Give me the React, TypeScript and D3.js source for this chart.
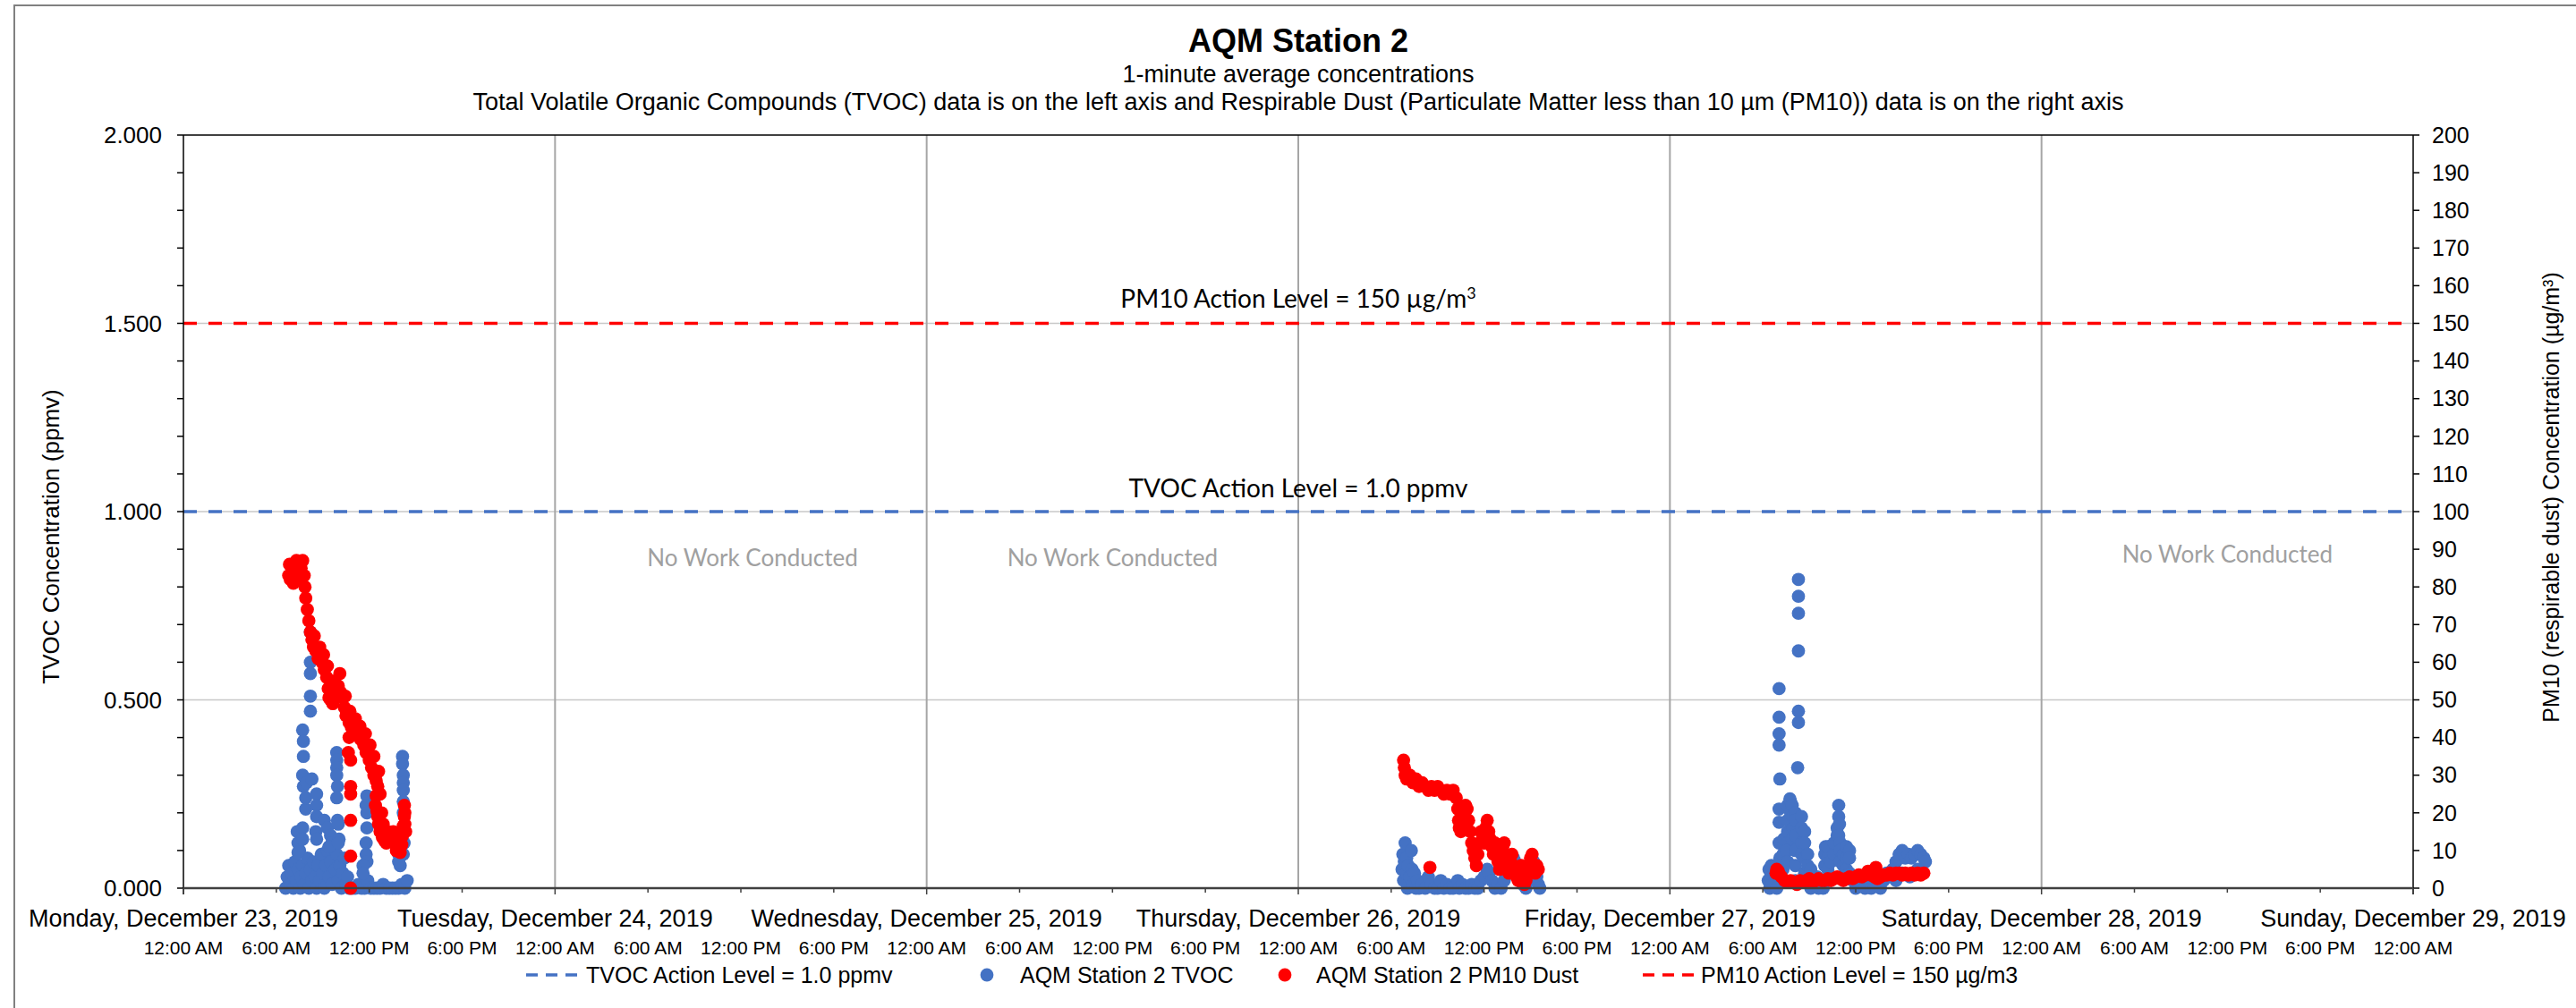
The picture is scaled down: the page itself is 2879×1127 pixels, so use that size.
import React from "react";
import * as d3 from "d3";

// ---------- DATA ----------
const titleText = "AQM Station 2";
const subtitleText = "1-minute average concentrations";
const noteText =
  "Total Volatile Organic Compounds (TVOC) data is on the left axis and Respirable Dust (Particulate Matter less than 10 µm (PM10)) data is on the right axis";
const leftAxisTitle = "TVOC Concentration (ppmv)";
const rightAxisTitle = "PM10 (respirable dust) Concentration (µg/m³)";
const legendLabels = [
  "TVOC Action Level = 1.0 ppmv",
  "AQM Station 2 TVOC",
  "AQM Station 2 PM10 Dust",
  "PM10 Action Level = 150 µg/m3",
];
const tvocActionLevel = 1.0; // ppmv, left axis
const pm10ActionLevel = 150; // µg/m3, right axis
const noWorkDays = [1, 2, 5]; // day index from Dec 23 (Tue, Wed, Sat)
const noWorkText = "No Work Conducted";

const startDate = new Date(2019, 11, 23);
const endDate = new Date(2019, 11, 29);

// [hour of day, TVOC ppmv]  — Monday Dec 23
const tvocDec23: [number, number][] = [
  [6.6, 0.0], [6.7, 0.03], [6.8, 0.06], [6.9, 0.01], [7.0, 0.04], [7.1, 0.0], [7.2, 0.07], [7.3, 0.02],
  [7.4, 0.05], [7.5, 0.1], [7.55, 0.0], [7.6, 0.03], [7.7, 0.06], [7.8, 0.01], [7.9, 0.04], [8.0, 0.08],
  [8.1, 0.0], [8.2, 0.05], [8.3, 0.02], [8.4, 0.07], [8.5, 0.03], [8.6, 0.0], [8.7, 0.06], [8.8, 0.02],
  [8.9, 0.09], [9.0, 0.04], [9.1, 0.0], [9.2, 0.06], [9.3, 0.1], [9.4, 0.03], [9.5, 0.07], [9.6, 0.01],
  [9.7, 0.12], [9.8, 0.05], [9.9, 0.09], [10.0, 0.02], [10.1, 0.06], [10.2, 0.0], [10.3, 0.04], [10.4, 0.08],
  [10.5, 0.01], [10.6, 0.03], [10.7, 0.0], [10.9, 0.0], [11.1, 0.0], [11.3, 0.01], [11.5, 0.0], [11.7, 0.0],
  [11.9, 0.02], [12.1, 0.0], [12.3, 0.0], [12.5, 0.0], [12.7, 0.0], [12.9, 0.01], [13.1, 0.0], [13.3, 0.0],
  [13.5, 0.0], [13.7, 0.0], [13.9, 0.0], [14.1, 0.01], [14.3, 0.0], [14.45, 0.02],
  [7.4, 0.12], [7.4, 0.095], [7.35, 0.15],
  [7.7, 0.42], [7.75, 0.39], [7.75, 0.35], [7.7, 0.3], [7.75, 0.27], [7.7, 0.16], [7.7, 0.13],
  [7.9, 0.21], [7.95, 0.28], [7.9, 0.24],
  [8.2, 0.68], [8.2, 0.6], [8.2, 0.57], [8.2, 0.51], [8.2, 0.47],
  [8.3, 0.29], [8.6, 0.25], [8.6, 0.22], [8.6, 0.19], [8.55, 0.15], [8.6, 0.13],
  [9.1, 0.18], [9.3, 0.16], [9.5, 0.14], [9.6, 0.12], [9.4, 0.11],
  [9.9, 0.36], [9.9, 0.34], [9.9, 0.32], [9.9, 0.3], [9.95, 0.27], [9.9, 0.24], [9.95, 0.18],
  [10.0, 0.17], [10.05, 0.13], [10.0, 0.12],
  [11.85, 0.245], [11.8, 0.22], [11.85, 0.2], [11.85, 0.16], [11.8, 0.12], [11.8, 0.09], [11.85, 0.07],
  [11.6, 0.06], [11.6, 0.04],
  [14.15, 0.35], [14.15, 0.33], [14.2, 0.3], [14.2, 0.28], [14.2, 0.26], [14.2, 0.23], [14.2, 0.2],
  [14.25, 0.12], [14.2, 0.09], [14.0, 0.06], [13.9, 0.09], [13.9, 0.07],
];

// [hour of day, PM10 µg/m3] — Monday Dec 23
const pm10Dec23: [number, number][] = [
  [6.8, 83], [6.85, 86], [6.9, 82], [7.0, 85], [7.1, 81], [7.2, 84], [7.3, 87], [7.4, 84], [7.5, 82],
  [7.6, 85], [7.7, 87], [7.8, 83], [7.85, 80], [7.9, 77], [8.0, 74], [8.1, 71], [8.2, 68], [8.3, 66],
  [8.4, 64], [8.55, 63], [8.7, 61], [8.95, 60], [9.1, 58], [9.25, 56], [9.35, 53], [9.4, 50.6],
  [9.5, 50], [9.65, 49], [9.8, 52], [10.0, 53.7], [10.15, 52], [10.3, 50.6], [10.4, 48], [10.5, 45.8],
  [10.7, 44], [10.85, 42.7], [11.05, 42], [11.25, 41], [11.45, 39.5], [11.65, 38], [11.8, 36],
  [12.0, 34], [12.15, 32], [12.3, 30], [12.45, 28.5], [12.55, 27], [12.45, 24.5], [12.4, 22],
  [12.5, 20.5], [12.55, 19], [12.6, 17], [12.7, 15], [12.85, 13.5], [13.0, 12.5], [13.1, 12],
  [13.3, 13], [13.45, 14], [13.6, 12], [13.75, 10], [13.9, 9.8], [14.0, 9.5], [14.1, 11.5],
  [14.15, 14], [14.2, 16.5], [14.27, 19], [14.27, 22], [14.3, 20], [14.3, 17],
  [10.8, 34], [10.8, 27], [10.8, 25], [10.8, 18], [10.8, 8.5], [10.8, 0],
  [10.7, 40], [10.65, 36],
  [8.45, 67], [8.8, 64], [9.05, 62], [9.3, 59], [9.55, 54], [9.75, 55], [10.1, 57], [10.45, 51],
  [10.75, 47], [11.1, 45], [11.4, 43], [11.75, 41], [12.05, 38], [12.3, 35], [12.6, 31], [12.7, 25],
  [12.8, 20], [12.9, 17], [13.2, 15], [13.55, 15], [13.85, 12.5], [14.05, 13], [14.35, 15],
];

// Thursday Dec 26
const tvocDec26: [number, number][] = [
  [6.7, 0.05], [6.75, 0.09], [6.8, 0.02], [6.85, 0.07], [6.9, 0.12], [6.95, 0.04], [7.0, 0.08], [7.05, 0.0],
  [7.1, 0.06], [7.2, 0.03], [7.3, 0.1], [7.35, 0.05], [7.4, 0.01], [7.5, 0.04], [7.6, 0.0], [7.7, 0.02],
  [7.8, 0.0], [8.0, 0.01], [8.2, 0.0], [8.4, 0.03], [8.6, 0.01], [8.8, 0.0], [9.0, 0.0], [9.2, 0.02],
  [9.4, 0.0], [9.6, 0.01], [9.8, 0.0], [10.0, 0.0], [10.3, 0.02], [10.4, 0.0], [10.6, 0.01], [10.8, 0.0],
  [11.0, 0.0], [11.2, 0.01], [11.4, 0.0], [11.6, 0.0], [11.8, 0.02], [12.0, 0.03], [12.2, 0.05], [12.3, 0.04],
  [12.5, 0.02], [12.7, 0.0], [12.9, 0.01], [13.1, 0.0], [13.3, 0.02], [13.5, 0.04], [13.7, 0.06], [13.9, 0.08],
  [14.0, 0.07], [14.1, 0.05], [14.3, 0.03], [14.5, 0.01], [14.7, 0.0], [14.9, 0.02], [15.0, 0.04], [15.1, 0.06],
  [15.2, 0.07], [15.3, 0.05], [15.4, 0.03], [15.5, 0.01], [15.6, 0.0],
];
const pm10Dec26: [number, number][] = [
  [6.8, 34], [6.85, 32], [6.9, 30], [7.0, 29], [7.2, 30], [7.4, 28], [7.6, 29], [7.8, 27], [8.0, 28],
  [8.2, 27], [8.4, 26], [8.6, 27], [8.8, 26], [9.0, 27], [9.2, 26], [9.4, 25], [9.6, 26], [9.8, 25],
  [10.0, 26], [10.2, 24], [10.3, 21], [10.35, 18], [10.4, 16], [10.5, 15], [10.6, 17], [10.7, 20],
  [10.8, 22], [10.9, 21], [11.0, 18], [11.1, 15], [11.2, 12], [11.3, 10], [11.4, 8], [11.5, 6],
  [11.6, 9], [11.7, 12], [11.8, 15], [11.9, 14], [12.0, 12], [12.1, 16], [12.2, 18], [12.3, 15],
  [12.4, 13], [12.5, 11], [12.6, 9], [12.7, 12], [12.8, 10], [12.9, 7], [13.0, 5], [13.1, 8],
  [13.2, 11], [13.3, 12], [13.4, 9], [13.5, 6], [13.6, 4], [13.7, 7], [13.8, 9], [13.9, 6],
  [14.0, 4], [14.1, 3], [14.2, 2], [14.3, 4], [14.4, 6], [14.5, 3], [14.6, 1], [14.7, 2],
  [14.8, 4], [14.9, 6], [15.0, 8], [15.1, 9], [15.2, 6], [15.3, 4], [15.4, 6], [15.5, 5],
  [8.5, 5.5],
];

// Friday Dec 27
const tvocDec27: [number, number][] = [
  [6.35, 0.02], [6.4, 0.05], [6.45, 0.0], [6.5, 0.03], [6.55, 0.06], [6.6, 0.01], [6.9, 0.03], [6.9, 0.0],
  [7.05, 0.53], [7.05, 0.454], [7.05, 0.41], [7.05, 0.38], [7.1, 0.29], [7.05, 0.21], [7.05, 0.175],
  [7.05, 0.12], [7.1, 0.08], [7.1, 0.04],
  [7.3, 0.09], [7.3, 0.05], [7.35, 0.13],
  [7.6, 0.22], [7.6, 0.18], [7.6, 0.15], [7.6, 0.12], [7.55, 0.1], [7.6, 0.07],
  [7.75, 0.237], [7.8, 0.23], [7.8, 0.2],
  [7.9, 0.22], [7.95, 0.19], [7.95, 0.16], [7.9, 0.13],
  [8.1, 0.2], [8.1, 0.18], [8.1, 0.14], [8.1, 0.1], [8.1, 0.06], [8.1, 0.02],
  [8.3, 0.82], [8.3, 0.775], [8.3, 0.73], [8.3, 0.63], [8.3, 0.47], [8.3, 0.44], [8.25, 0.32],
  [8.5, 0.19], [8.5, 0.16], [8.5, 0.12], [8.5, 0.09],
  [8.7, 0.15], [8.7, 0.12], [8.7, 0.08], [8.7, 0.04],
  [8.9, 0.09], [8.9, 0.06], [8.9, 0.03],
  [9.1, 0.05], [9.1, 0.02], [9.1, 0.0],
  [9.3, 0.01], [9.5, 0.03], [9.6, 0.0], [9.8, 0.02], [9.9, 0.0],
  [10.0, 0.06], [10.0, 0.09], [10.05, 0.11], [10.2, 0.08], [10.2, 0.11], [10.2, 0.05],
  [10.4, 0.07], [10.4, 0.03], [10.6, 0.09], [10.6, 0.12], [10.8, 0.14], [10.8, 0.16],
  [10.9, 0.22], [10.9, 0.19], [10.95, 0.17], [10.9, 0.14],
  [11.0, 0.12], [11.0, 0.1], [11.0, 0.07], [11.2, 0.09], [11.2, 0.06],
  [11.4, 0.11], [11.4, 0.08], [11.4, 0.05], [11.6, 0.1], [11.6, 0.08], [11.6, 0.04],
  [11.8, 0.02], [12.0, 0.0], [12.2, 0.01], [12.4, 0.03], [12.6, 0.0], [12.8, 0.02], [13.0, 0.0],
  [13.2, 0.01], [13.4, 0.03], [13.6, 0.0], [13.8, 0.02], [14.0, 0.04], [14.2, 0.03],
  [14.4, 0.05], [14.6, 0.07], [14.8, 0.09], [15.0, 0.1], [15.2, 0.08], [15.4, 0.09], [15.6, 0.08],
  [15.8, 0.09], [16.0, 0.1], [16.2, 0.09], [16.4, 0.08], [16.5, 0.07],
  [14.6, 0.02], [15.0, 0.04], [15.5, 0.03], [16.0, 0.05],
];
const pm10Dec27: [number, number][] = [
  [6.85, 4], [6.9, 5], [7.0, 4.5], [7.1, 3.5], [7.2, 3], [7.4, 2], [7.6, 1.5], [7.8, 2], [8.0, 1.5],
  [8.2, 1], [8.4, 2], [8.6, 1.5], [8.8, 2], [9.0, 2.5], [9.2, 1.5], [9.4, 2], [9.6, 2.5], [9.8, 2],
  [10.0, 2], [10.2, 2.5], [10.4, 2], [10.6, 2.5], [10.8, 3], [11.0, 2.5], [11.2, 2], [11.4, 2.5],
  [11.6, 3], [11.8, 2.5], [12.0, 3], [12.2, 3.5], [12.4, 3], [12.6, 3.5], [12.8, 4.5], [13.0, 3.5],
  [13.2, 3], [13.3, 5.5], [13.4, 2.5], [13.6, 3], [13.8, 3.5], [14.0, 3.5], [14.2, 4], [14.4, 3.5],
  [14.6, 4], [14.8, 4], [15.0, 3.5], [15.2, 4], [15.4, 3.5], [15.6, 4], [15.8, 3.5], [16.0, 4],
  [16.2, 3.5], [16.4, 4],
];

const tvocSeries: { day: number; pts: [number, number][] }[] = [
  { day: 0, pts: tvocDec23 },
  { day: 3, pts: tvocDec26 },
  { day: 4, pts: tvocDec27 },
];
const pm10Series: { day: number; pts: [number, number][] }[] = [
  { day: 0, pts: pm10Dec23 },
  { day: 3, pts: pm10Dec26 },
  { day: 4, pts: pm10Dec27 },
];

// ---------- STYLE ----------
const W = 2879;
const H = 1127;
const M = { left: 205, right: 2697, top: 151, bottom: 993 };
const BLUE = "#4472C4";
const RED = "#FF0000";
const ARIAL = "'Liberation Sans', Arial, sans-serif";
const CALIBRI = "Lato, 'Open Sans', sans-serif";
const R = 7.4;

function at(day: number, h: number) {
  return new Date(startDate.getTime() + (day * 24 + h) * 3600 * 1000);
}

export default function App() {
  const x = d3.scaleTime().domain([startDate, endDate]).range([M.left, M.right]);
  const yL = d3.scaleLinear().domain([0, 2]).range([M.bottom, M.top]);
  const yR = d3.scaleLinear().domain([0, 200]).range([M.bottom, M.top]);

  const sixHour = x.ticks(d3.timeHour.every(6)!);
  const days = x.ticks(d3.timeDay.every(1)!);
  const hourFmt = d3.timeFormat("%-I:%M %p");
  const dayFmt = d3.timeFormat("%A, %B %-d, %Y");
  const fmtL = d3.format(".3f");

  const leftMinor = yL.ticks(20);
  const leftMajor = yL.ticks(4);
  const rightTicks = yR.ticks(20);

  const tvocPts = tvocSeries.flatMap((s) => s.pts.map(([h, v]) => ({ t: at(s.day, h), v })));
  const pmPts = pm10Series.flatMap((s) => s.pts.map(([h, v]) => ({ t: at(s.day, h), v })));

  const midX = (M.left + M.right) / 2;
  const legendY = 1090;

  return (
    <div style={{ position: "absolute", left: 0, top: 0 }}>
      <svg width={W} height={H} style={{ display: "block", background: "#fff" }}>
        {/* chart border */}
        <path d={`M16,${H + 5} V6 H${W + 5}`} fill="none" stroke="#808080" strokeWidth={2} />

        {/* titles */}
        <text x={midX} y={58} textAnchor="middle" fontFamily={ARIAL} fontWeight="bold" fontSize={36}>
          {titleText}
        </text>
        <text x={midX} y={92} textAnchor="middle" fontFamily={ARIAL} fontSize={27}>
          {subtitleText}
        </text>
        <text x={midX} y={123} textAnchor="middle" fontFamily={ARIAL} fontSize={27}>
          {noteText}
        </text>

        {/* horizontal gridlines */}
        {leftMajor
          .filter((t) => t > 0 && t < 2)
          .map((t) => (
            <line key={"hg" + t} x1={M.left} x2={M.right} y1={yL(t)} y2={yL(t)} stroke="#C8C8C8" strokeWidth={1.5} />
          ))}
        {/* vertical day gridlines */}
        {days
          .filter((d) => +d > +startDate && +d < +endDate)
          .map((d) => (
            <line key={"vg" + +d} x1={x(d)} x2={x(d)} y1={M.top} y2={M.bottom} stroke="#A6A6A6" strokeWidth={2} />
          ))}

        {/* No work text */}
        {noWorkDays.map((d) => (
          <text
            key={"nw" + d}
            x={x(at(d, 12)) + (d === 1 ? 13 : 0)}
            y={d === 5 ? 629 : 633}
            textAnchor="middle"
            fontFamily={CALIBRI}
            fontSize={26}
            fill="#A0A0A0"
          >
            {noWorkText}
          </text>
        ))}

        {/* action lines */}
        <line
          x1={M.left}
          x2={M.right}
          y1={yL(tvocActionLevel)}
          y2={yL(tvocActionLevel)}
          stroke={BLUE}
          strokeWidth={3.5}
          strokeDasharray="15 13"
        />
        <line
          x1={M.left}
          x2={M.right}
          y1={yR(pm10ActionLevel)}
          y2={yR(pm10ActionLevel)}
          stroke={RED}
          strokeWidth={3.5}
          strokeDasharray="15 13"
        />
        <text x={midX} y={yR(pm10ActionLevel) - 18} textAnchor="middle" fontFamily={CALIBRI} fontSize={28}>
          PM10 Action Level = {pm10ActionLevel} µg/m
          <tspan dy={-10} fontSize={18}>
            3
          </tspan>
        </text>
        <text x={midX} y={yL(tvocActionLevel) - 16} textAnchor="middle" fontFamily={CALIBRI} fontSize={28}>
          TVOC Action Level = {tvocActionLevel.toFixed(1)} ppmv
        </text>

        {/* markers */}
        {tvocPts.map((p, i) => (
          <circle key={"b" + i} cx={x(p.t)} cy={yL(p.v)} r={R} fill={BLUE} />
        ))}
        {pmPts.map((p, i) => (
          <circle key={"r" + i} cx={x(p.t)} cy={yR(p.v)} r={R} fill={RED} />
        ))}

        {/* axes lines */}
        <line x1={M.left} x2={M.right} y1={M.top} y2={M.top} stroke="#000" strokeWidth={1.5} />
        <line x1={M.left} x2={M.left} y1={M.top} y2={M.bottom + 7} stroke="#000" strokeWidth={1.5} />
        <line x1={M.right} x2={M.right} y1={M.top} y2={M.bottom + 7} stroke="#000" strokeWidth={1.5} />
        <line x1={M.left} x2={M.right} y1={M.bottom} y2={M.bottom} stroke="#404040" strokeWidth={2.5} />

        {/* left ticks */}
        {leftMinor.map((t) => (
          <line key={"lt" + t} x1={M.left - 7} x2={M.left} y1={yL(t)} y2={yL(t)} stroke="#000" strokeWidth={1.5} />
        ))}
        {leftMajor.map((t) => (
          <text
            key={"ll" + t}
            x={181}
            y={yL(t)}
            dy="0.35em"
            textAnchor="end"
            fontFamily={ARIAL}
            fontSize={26}
          >
            {fmtL(t)}
          </text>
        ))}
        {/* right ticks */}
        {rightTicks.map((t) => (
          <g key={"rt" + t}>
            <line x1={M.right} x2={M.right + 7} y1={yR(t)} y2={yR(t)} stroke="#000" strokeWidth={1.5} />
            <text x={2718} y={yR(t)} dy="0.35em" fontFamily={ARIAL} fontSize={25}>
              {t}
            </text>
          </g>
        ))}
        {/* x ticks */}
        {sixHour.map((d) => {
          const isDay = d.getHours() === 0;
          return (
            <line
              key={"xt" + +d}
              x1={x(d)}
              x2={x(d)}
              y1={M.bottom}
              y2={M.bottom + (isDay ? 7 : 5)}
              stroke="#404040"
              strokeWidth={1.5}
            />
          );
        })}
        {days.map((d) => (
          <text key={"dl" + +d} x={x(d)} y={1036} textAnchor="middle" fontFamily={ARIAL} fontSize={27}>
            {dayFmt(d)}
          </text>
        ))}
        {sixHour.map((d) => (
          <text key={"hl" + +d} x={x(d)} y={1067} textAnchor="middle" fontFamily={ARIAL} fontSize={21}>
            {hourFmt(d)}
          </text>
        ))}

        {/* axis titles */}
        <text
          transform={`translate(66, 600) rotate(-90)`}
          textAnchor="middle"
          fontFamily={ARIAL}
          fontSize={26}
        >
          {leftAxisTitle}
        </text>
        <text
          transform={`translate(2860, 556) rotate(-90)`}
          textAnchor="middle"
          fontFamily={ARIAL}
          fontSize={25}
        >
          {rightAxisTitle}
        </text>

        {/* legend */}
        <line x1={588} x2={650} y1={legendY} y2={legendY} stroke={BLUE} strokeWidth={3.5} strokeDasharray="13 9" />
        <text x={655} y={legendY} dy="0.35em" fontFamily={ARIAL} fontSize={25}>
          {legendLabels[0]}
        </text>
        <circle cx={1103} cy={legendY} r={R} fill={BLUE} />
        <text x={1140} y={legendY} dy="0.35em" fontFamily={ARIAL} fontSize={25}>
          {legendLabels[1]}
        </text>
        <circle cx={1436} cy={legendY} r={R} fill={RED} />
        <text x={1471} y={legendY} dy="0.35em" fontFamily={ARIAL} fontSize={25}>
          {legendLabels[2]}
        </text>
        <line x1={1836} x2={1898} y1={legendY} y2={legendY} stroke={RED} strokeWidth={3.5} strokeDasharray="13 9" />
        <text x={1901} y={legendY} dy="0.35em" fontFamily={ARIAL} fontSize={25}>
          {legendLabels[3]}
        </text>
      </svg>
    </div>
  );
}
